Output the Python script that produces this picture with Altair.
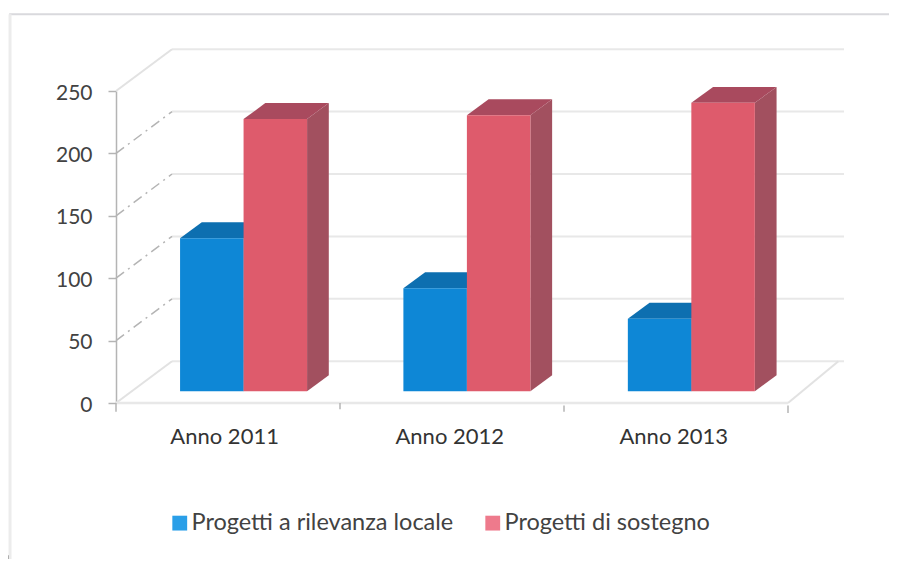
import altair as alt
import pandas as pd

years = ["Anno 2011", "Anno 2012", "Anno 2013"]
series = ["Progetti a rilevanza locale", "Progetti di sostegno"]
locale = [122.5, 82.5, 58]
sostegno = [218, 221, 231]
ticks = [0, 50, 100, 150, 200, 250]

FONT = "Lato"
BAR_W, FLOOR, DX, DY = 0.2835, 9.5, 0.097, 12.8
WALL_X, WALL_Y = 0.25, 33.5
starts = [0.286, 1.283, 2.285]
faces = {series[0]: ("#0e87d6", "#0d6fb0", "#0d6fb0"), series[1]: ("#de5b6c", "#a94a5e", "#a2505f")}

xs = alt.Scale(domain=[0, 3], nice=False, zero=False)
ys = alt.Scale(domain=[0, 250], nice=False, zero=False)
y_axis = alt.Axis(
    values=ticks,
    title=None,
    grid=False,
    domainColor="#b4b4b4",
    domainWidth=1.5,
    tickColor="#b4b4b4",
    tickWidth=1.5,
    tickSize=8,
    labelPadding=16,
    labelOffset=2,
    labelFont=FONT,
    labelFontSize=21,
    labelColor="#424242",
)


def X(f="x"):
    return alt.X(f"{f}:Q", scale=xs, axis=None)


def Y(f="y"):
    return alt.Y(f"{f}:Q", scale=ys, axis=y_axis)


def rules(rows, color, width, dash=None):
    kw = {"color": color, "strokeWidth": width}
    if dash:
        kw["strokeDash"] = dash
    return alt.Chart(pd.DataFrame(rows, columns=["x", "y", "x2", "y2"])).mark_rule(**kw).encode(
        x=X(), y=Y(), x2="x2:Q", y2="y2:Q"
    )


# Scan frame
frame = rules([[-0.477, 311.5, 3.49, 311.5]], "#d9d9dd", 2)
frame_l = rules([[-0.473, 311.5, -0.473, -126]], "#ececec", 3)
frame_m = rules([[-0.482, -122, -0.482, -130]], "#9a9a9a", 1.5)

# Back wall gridlines
wall = rules([[WALL_X, t + WALL_Y, 3.25, t + WALL_Y] for t in ticks], "#e8e8e8", 2)

# Perspective diagonals
diag_solid = rules(
    [[0, t, WALL_X, t + WALL_Y] for t in [0, 250]] + [[3, 0, 3.225, WALL_Y]], "#e2e2e2", 2
)
diag_dash = rules(
    [[0, t, WALL_X, t + WALL_Y] for t in [50, 100, 150, 200]], "#b4b4b4", 1.5, [10, 5, 2, 5]
)

# Floor front edge and ticks
front = rules([[0, 0, 3, 0]], "#e8e8e8", 2.5)
xticks = rules([[0, 0, 0, -7], [1, 0, 1, -5], [2, -2, 2, -7], [3, -2, 3, -8]], "#b4b4b4", 1.5)

# Bars
front_rows, side_rows, top_rows = [], [], []
for s, vals in zip(series, [locale, sostegno]):
    for yr, st, v in zip(years, starts, vals):
        xl = st if s == series[0] else st + BAR_W
        xr = xl + BAR_W
        b, t = FLOOR, FLOOR + v
        k = f"{yr}-{s}"
        front_rows.append({"s": s, "x": xl, "x2": xr, "y": b, "y2": t})
        side_rows += [
            {"s": s, "k": k, "x": xr, "y": b, "y2": t},
            {"s": s, "k": k, "x": xr + DX, "y": b + DY, "y2": t + DY},
        ]
        top_rows += [
            {"s": s, "k": k, "y": t, "x": xl, "x2": xr},
            {"s": s, "k": k, "y": t + DY, "x": xl + DX, "x2": xr + DX},
        ]
front_df, side_df, top_df = map(pd.DataFrame, (front_rows, side_rows, top_rows))

bars = []
for s in series:
    fc, tc, sc = faces[s]
    bars += [
        alt.Chart(side_df[side_df.s == s]).mark_area(color=sc).encode(
            x=X(), y=Y(), y2="y2:Q", detail="k:N"
        ),
        alt.Chart(top_df[top_df.s == s]).mark_area(color=tc, orient="horizontal").encode(
            y=Y(), x=X(), x2="x2:Q", detail="k:N"
        ),
        alt.Chart(front_df[front_df.s == s]).mark_rect(color=fc).encode(
            x=X(), x2="x2:Q", y=Y(), y2="y2:Q"
        ),
    ]

# Category labels
labels = (
    alt.Chart(pd.DataFrame({"t": years, "x": [0.485, 1.49, 2.49], "y": [-27] * 3}))
    .mark_text(font=FONT, fontSize=22, color="#333333", baseline="middle")
    .encode(x=X(), y=Y(), text="t:N")
)

# Legend
legend_layer = (
    alt.Chart(pd.DataFrame({"s": series, "x": [0, 0], "y": [0, 0]}))
    .mark_square(opacity=0)
    .encode(
        x=X(),
        y=Y(),
        color=alt.Color(
            "s:N",
            scale=alt.Scale(domain=series, range=["#2a9fe8", "#ee7a8c"]),
            legend=alt.Legend(
                title=None,
                orient="none",
                legendX=52,
                legendY=420,
                direction="horizontal",
                symbolType="square",
                symbolSize=220,
                symbolOpacity=1,
                symbolStrokeWidth=0,
                labelFont=FONT,
                labelFontSize=23.5,
                labelColor="#424242",
                labelOffset=0,
                columnPadding=27,
                labelLimit=400,
            ),
        ),
    )
)

chart = (
    alt.layer(
        frame, frame_l, frame_m, wall, diag_solid, diag_dash, front, xticks,
        *bars, labels, legend_layer,
    )
    .properties(
        width=672,
        height=312,
        autosize=alt.AutoSizeParams(type="none"),
        padding={"left": 108, "top": 83, "right": 101, "bottom": 156},
        background="white",
    )
    .configure_view(stroke=None)
)

chart.save("out.html", embed_options={"renderer": "svg", "actions": False})
